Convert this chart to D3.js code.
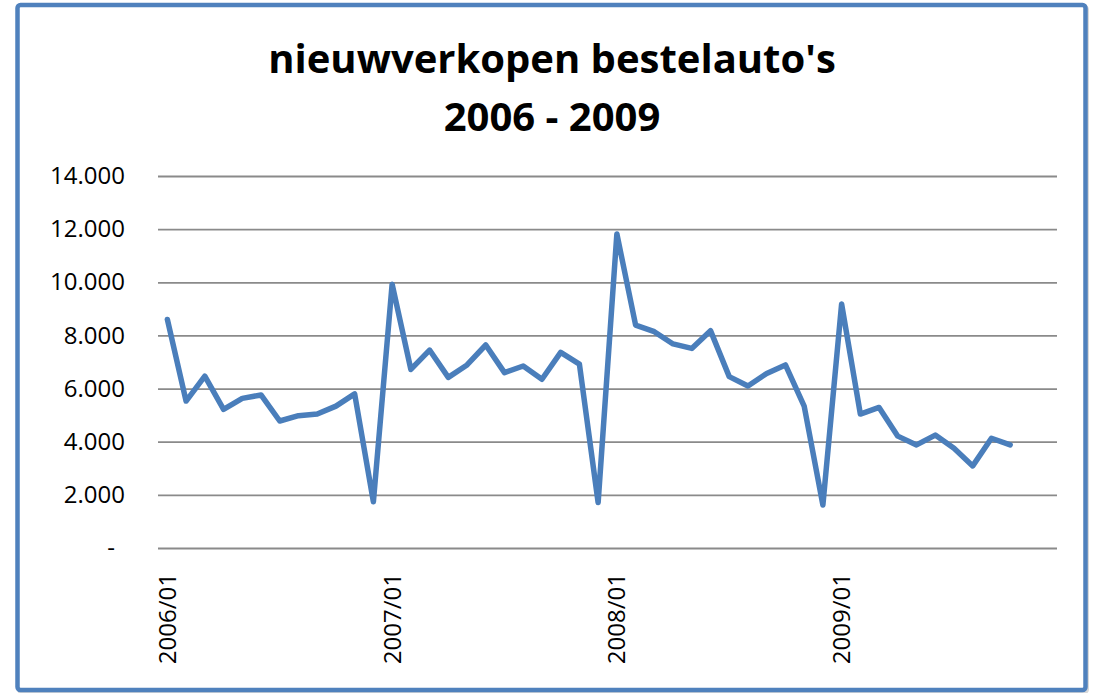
<!DOCTYPE html>
<meta charset="utf-8">
<style>

body {
  margin: 0;
  background: #fff;
}

.title {
  font: bold 40px "Open Sans", sans-serif;
  text-anchor: middle;
  fill: #000;
}

.axis text {
  font: 24px "Open Sans", sans-serif;
  fill: #000;
}

.axis .domain {
  display: none;
}

.y.axis line {
  stroke: #8a8a8a;
  stroke-width: 1.8px;
}

.line {
  fill: none;
  stroke: #4a7ebb;
  stroke-width: 5.5px;
  stroke-linejoin: round;
  stroke-linecap: round;
}

</style>
<svg width="1097" height="693"></svg>
<script src="https://d3js.org/d3.v7.min.js"></script>
<script>

// monthly categories 2006/01 - 2009/12
var years = ["2006", "2007", "2008", "2009"],
    months = ["01", "02", "03", "04", "05", "06", "07", "08", "09", "10", "11", "12"];

var categories = [];
years.forEach(function(y) { months.forEach(function(m) { categories.push(y + "/" + m); }); });

var tickLabels = ["2006/01", "2007/01", "2008/01", "2009/01"];

var yTicks = [0, 2000, 4000, 6000, 8000, 10000, 12000, 14000];

// sales per month (2006/01 - 2009/10)
var sales = [
  8600, 5530, 6470, 5220, 5630, 5760, 4780, 4980, 5040, 5340, 5800, 1740,
  9930, 6720, 7450, 6420, 6890, 7640, 6600, 6850, 6350, 7360, 6920, 1710,
  11820, 8390, 8140, 7680, 7510, 8180, 6450, 6100, 6570, 6890, 5340, 1620,
  9180, 5040, 5290, 4210, 3880, 4250, 3750, 3090, 4130, 3880
];

var svg = d3.select("svg");

// chart frame
svg.append("rect")
    .attr("x", 18.5)
    .attr("y", 6.5)
    .attr("width", 1069)
    .attr("height", 686)
    .attr("rx", 3)
    .style("fill", "none")
    .style("stroke", "#d9d9d9")
    .style("stroke-width", 3);

svg.append("rect")
    .attr("x", 17.5)
    .attr("y", 5)
    .attr("width", 1068)
    .attr("height", 685)
    .attr("rx", 3)
    .style("fill", "#fff")
    .style("stroke", "#4f81bd")
    .style("stroke-width", 4.5);

var title = svg.append("text")
    .attr("class", "title")
    .attr("x", 552);

title.append("tspan").attr("x", 552).attr("y", 73).text("nieuwverkopen bestelauto's");
title.append("tspan").attr("x", 552).attr("y", 131).text("2006 - 2009");

var plotLeft = 158, plotRight = 1057, plotTop = 176, plotBottom = 548;

var x = d3.scaleBand()
    .domain(categories)
    .range([plotLeft, plotRight]);

var y = d3.scaleLinear()
    .domain([0, 14000])
    .range([plotBottom, plotTop]);

var nl = d3.formatLocale({ decimal: ",", thousands: ".", grouping: [3], currency: ["€", ""] }),
    fmt = nl.format(",.0f");

var yAxis = svg.append("g")
    .attr("class", "y axis")
    .attr("transform", "translate(" + plotLeft + ",0)")
    .call(d3.axisLeft(y)
        .tickValues(yTicks)
        .tickSize(-(plotRight - plotLeft))
        .tickPadding(33)
        .tickFormat(function(d) { return d === 0 ? "-" : fmt(d); }));

yAxis.selectAll(".tick")
    .filter(function(d) { return d === 0; })
    .select("text")
    .attr("x", -43);

svg.append("g")
    .attr("class", "x axis")
    .attr("transform", "translate(0," + plotBottom + ")")
    .call(d3.axisBottom(x)
        .tickValues(tickLabels)
        .tickSize(0))
  .selectAll("text")
    .attr("transform", "rotate(-90)")
    .attr("text-anchor", "end")
    .attr("x", -25)
    .attr("y", 0)
    .attr("dy", "0.35em");

var line = d3.line()
    .x(function(d, i) { return x(categories[i]) + x.bandwidth() / 2; })
    .y(function(d) { return y(d); });

svg.append("path")
    .datum(sales)
    .attr("class", "line")
    .attr("d", line);

</script>
